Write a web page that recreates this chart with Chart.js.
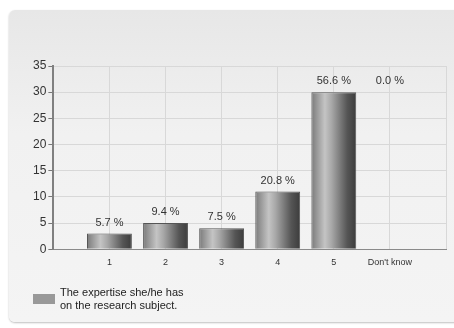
<!DOCTYPE html>
<html>
<head>
<meta charset="utf-8">
<script src="https://cdn.jsdelivr.net/npm/chart.js@4"></script>
<style>
  body { margin: 0; background: #fff; font-family: "Liberation Sans", Arial, sans-serif; }
  #wrap { position: relative; width: 454px; height: 328px; overflow: hidden; }
  #panel {
    position: absolute; left: 9px; top: 10px; width: 460px; height: 312px;
    border-radius: 6px;
    background: linear-gradient(#e7e7e7, #f1f1f1 40%, #f4f4f4);
    box-shadow: 0 1px 2px rgba(0,0,0,0.25);
  }
  canvas { position: absolute; left: 0; top: 0; }
  #legend { position: absolute; left: 33px; top: 286px; font-size: 11px; color: #222; }
  #legend .box { position: absolute; left: 0; top: 8px; width: 22px; height: 10px; background: #999; }
  #legend .txt { position: absolute; left: 27px; top: 0; width: 200px; line-height: 13px; }
</style>
</head>
<body>
<div id="wrap">
  <div id="panel"></div>
  <canvas id="chart" width="454" height="328"></canvas>
  <div id="legend"><div class="box"></div><div class="txt">The expertise she/he has<br>on the research subject.</div></div>
</div>
<script>
// categories padded with an empty slot at each end, like the original axis
const categories = ["", "1", "2", "3", "4", "5", "Don't know", ""];
const counts = [null, 3, 5, 4, 11, 30, 0, null];
const pctLabels = [null, "5.7 %", "9.4 %", "7.5 %", "20.8 %", "56.6 %", "0.0 %", null];
const yTicks = [0, 5, 10, 15, 20, 25, 30, 35];

const FONT = "'Liberation Sans', Arial, sans-serif";

function barGradient(context) {
  const chart = context.chart;
  const { ctx, chartArea, scales } = chart;
  if (!chartArea || !scales.x) return "#999";
  const x = scales.x.getPixelForValue(context.dataIndex);
  const w = (scales.x.width / (categories.length - 1)) * 0.8;
  const g = ctx.createLinearGradient(x - w / 2, 0, x + w / 2, 0);
  g.addColorStop(0, "#7a7a7a");
  g.addColorStop(0.3, "#c4c4c4");
  g.addColorStop(0.45, "#a8a8a8");
  g.addColorStop(0.8, "#555");
  g.addColorStop(1, "#3c3c3c");
  return g;
}

const pctPlugin = {
  id: "pctLabels",
  afterDatasetsDraw(chart) {
    const { ctx } = chart;
    const meta = chart.getDatasetMeta(0);
    const y = chart.scales.y;
    const maxVal = Math.max(...counts.filter(v => v !== null));
    ctx.save();
    ctx.font = "11px " + FONT;
    ctx.fillStyle = "#333";
    ctx.textAlign = "center";
    ctx.textBaseline = "middle";
    meta.data.forEach((bar, i) => {
      if (!pctLabels[i]) return;
      // zero bar label sits at the top row in the original
      const v = counts[i] === 0 ? maxVal : counts[i];
      ctx.fillText(pctLabels[i], bar.x, y.getPixelForValue(v) - 11);
    });
    ctx.restore();
  }
};

const ctx = document.getElementById("chart");

new Chart(ctx, {
  type: "bar",
  data: {
    labels: categories,
    datasets: [
      {
        label: "The expertise she/he has on the research subject.",
        data: counts,
        backgroundColor: barGradient,
        borderColor: "#555",
        borderWidth: 1,
        barPercentage: 0.8,
        categoryPercentage: 1
      }
    ]
  },
  options: {
    responsive: false,
    animation: false,
    layout: {
      padding: { left: 31, right: 6, top: 66, bottom: 52 }
    },
    plugins: {
      legend: { display: false },
      tooltip: { enabled: false }
    },
    scales: {
      x: {
        offset: false,
        grid: { color: "#d8d8d8", drawTicks: false, offset: false },
        border: { color: "#8a8a8a", width: 1 },
        ticks: {
          color: "#333",
          padding: 8,
          maxRotation: 0,
          autoSkip: false,
          font: { family: FONT, size: 9 }
        }
      },
      y: {
        min: 0,
        max: 35,
        afterBuildTicks: axis => {
          axis.ticks = yTicks.map(v => ({ value: v }));
        },
        grid: { color: "#d8d8d8", tickLength: 5, tickColor: "#777" },
        border: { color: "#808080", width: 2 },
        ticks: {
          color: "#333",
          padding: 2,
          font: { family: FONT, size: 12 }
        }
      }
    }
  },
  plugins: [pctPlugin]
});
</script>
</body>
</html>
